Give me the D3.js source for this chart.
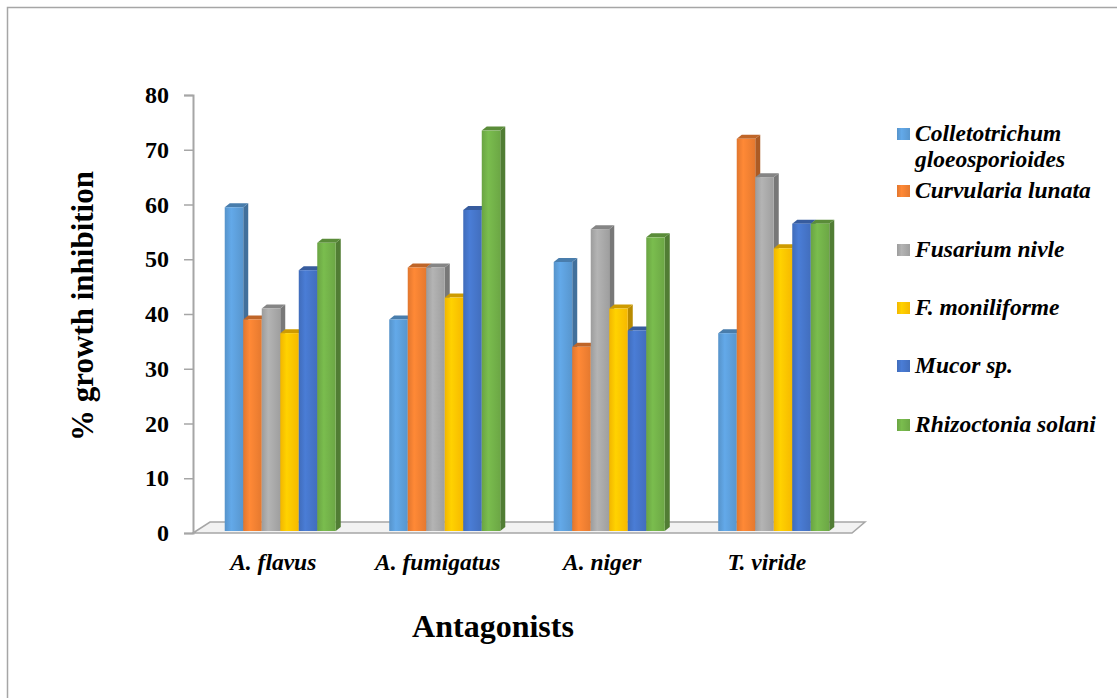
<!DOCTYPE html>
<html>
<head>
<meta charset="utf-8">
<script src="https://cdn.jsdelivr.net/npm/d3@7"></script>
<style>
  body { margin: 0; background: #fff; }
  svg { display: block; }
</style>
</head>
<body>
<div id="wrapper"></div>
<script>
let antagonists = ["A. flavus", "A. fumigatus", "A. niger", "T. viride"]
let pathogens = ["Colletotrichum gloeosporioides", "Curvularia lunata", "Fusarium nivle", "F. moniliforme", "Mucor sp.", "Rhizoctonia solani"]
let legendLines = [["Colletotrichum", "gloeosporioides"], ["Curvularia lunata"], ["Fusarium nivle"], ["F. moniliforme"], ["Mucor sp."], ["Rhizoctonia solani"]]
// one array per antagonist, in the order of pathogens
let flavusValues = [59.5, 39, 41, 36.5, 48, 53]
let fumigatusValues = [39, 48.5, 48.5, 43, 59, 73.5]
let nigerValues = [49.5, 34, 55.5, 41, 37, 54]
let virideValues = [36.5, 72, 65, 52, 56.5, 56.5]
let yTicks = [0, 10, 20, 30, 40, 50, 60, 70, 80]
let colors = ["#5B9BD5", "#ED7D31", "#A5A5A5", "#FFC000", "#4472C4", "#70AD47"]

let values = [flavusValues, fumigatusValues, nigerValues, virideValues]

let width = 1117, height = 698
let depthX = 5, depthY = 4
let serif = "'Liberation Serif', 'Times New Roman', serif"

let svg = d3.select("#wrapper")
    .append("svg")
    .attr("width", width)
    .attr("height", height)

// frame (only top and left edges visible)
svg.append("path")
    .attr("d", "M7.5,698V7.5H1117")
    .attr("fill", "none")
    .attr("stroke", "#a6a6a6")
    .attr("stroke-width", 1.5)

let defs = svg.append("defs")
colors.forEach((c, i) => {
    let g = defs.append("linearGradient").attr("id", "grad" + i)
        .attr("x1", "0%").attr("x2", "100%").attr("y1", "0%").attr("y2", "0%")
    g.append("stop").attr("offset", "0%").attr("stop-color", d3.color(c).darker(0.15))
    g.append("stop").attr("offset", "35%").attr("stop-color", d3.color(c).brighter(0.25))
    g.append("stop").attr("offset", "100%").attr("stop-color", d3.color(c).darker(0.1))
})

let y = d3.scaleLinear().domain([0, 80]).range([533, 95])

let x0 = d3.scaleBand().domain(antagonists).range([198, 856]).paddingInner(0.325).paddingOuter(0.1625)
let x1 = d3.scaleBand().domain(pathogens).range([0, x0.bandwidth()])

// floor
let floorLeft = 193, floorRight = 852
svg.append("path")
    .attr("d", `M${floorLeft},${y(0)}L${floorLeft + 17},${y(0) - 11}L${floorRight + 13},${y(0) - 11}L${floorRight},${y(0)}Z`)
    .attr("fill", "#f2f2f2")
    .attr("stroke", "#a6a6a6")
    .attr("stroke-width", 1.5)

// y axis
let yAxis = svg.append("g")
    .attr("transform", `translate(${floorLeft},0)`)
    .call(d3.axisLeft(y).tickValues(yTicks).tickSize(9).tickPadding(15))
yAxis.select(".domain").attr("stroke", "#a6a6a6").attr("stroke-width", 2)
yAxis.selectAll(".tick line").attr("stroke", "#a6a6a6").attr("stroke-width", 1.5)
yAxis.selectAll("text")
    .attr("fill", "#000")
    .style("font-family", serif)
    .style("font-weight", "bold")
    .style("font-size", "24px")

// bars
let groups = svg.append("g")
    .selectAll("g")
    .data(antagonists)
    .enter()
    .append("g")
    .attr("transform", d => `translate(${x0(d)},0)`)

groups.each(function (a, ai) {
    let g = d3.select(this)
    pathogens.forEach((p, pi) => {
        let v = values[ai][pi]
        let bx = x1(p), bw = x1.bandwidth()
        let top = y(v), bottom = y(0) - 2
        let c = d3.color(colors[pi])
        // side
        g.append("path")
            .attr("d", `M${bx + bw},${top}L${bx + bw + depthX},${top - depthY}L${bx + bw + depthX},${bottom - depthY}L${bx + bw},${bottom}Z`)
            .attr("fill", c.darker(0.9))
        // top
        g.append("path")
            .attr("d", `M${bx},${top}L${bx + depthX},${top - depthY}L${bx + bw + depthX},${top - depthY}L${bx + bw},${top}Z`)
            .attr("fill", c.darker(0.6))
        // front
        g.append("rect")
            .attr("x", bx)
            .attr("y", top)
            .attr("width", bw)
            .attr("height", bottom - top)
            .attr("fill", `url(#grad${pi})`)
    })
})

// x labels
let xAxis = svg.append("g")
    .attr("transform", `translate(0,${y(0)})`)
    .call(d3.axisBottom(x0).tickSize(0).tickPadding(0))
xAxis.select(".domain").remove()
xAxis.selectAll("text")
    .attr("fill", "#000")
    .attr("dx", -7)
    .attr("dy", 37)
    .style("font-family", serif)
    .style("font-weight", "bold")
    .style("font-style", "italic")
    .style("font-size", "23.5px")

// axis titles
svg.append("text")
    .attr("transform", "translate(93,306) rotate(-90)")
    .attr("text-anchor", "middle")
    .style("font-family", serif)
    .style("font-weight", "bold")
    .style("font-size", "31px")
    .text("% growth inhibition")

svg.append("text")
    .attr("x", 493)
    .attr("y", 637)
    .attr("text-anchor", "middle")
    .style("font-family", serif)
    .style("font-weight", "bold")
    .style("font-size", "32px")
    .text("Antagonists")

// legend
let legendBaselines = [141, 198, 257, 315, 373, 432]
let legend = svg.append("g")
legendLines.forEach((lines, i) => {
    let by = legendBaselines[i]
    legend.append("rect")
        .attr("x", 897)
        .attr("y", by - 13)
        .attr("width", 13)
        .attr("height", 12)
        .attr("fill", `url(#grad${i})`)
    lines.forEach((t, li) => {
        legend.append("text")
            .attr("x", 915)
            .attr("y", by + li * 26)
            .style("font-family", serif)
            .style("font-weight", "bold")
            .style("font-style", "italic")
            .style("font-size", "23.5px")
            .text(t)
    })
})
</script>
</body>
</html>
